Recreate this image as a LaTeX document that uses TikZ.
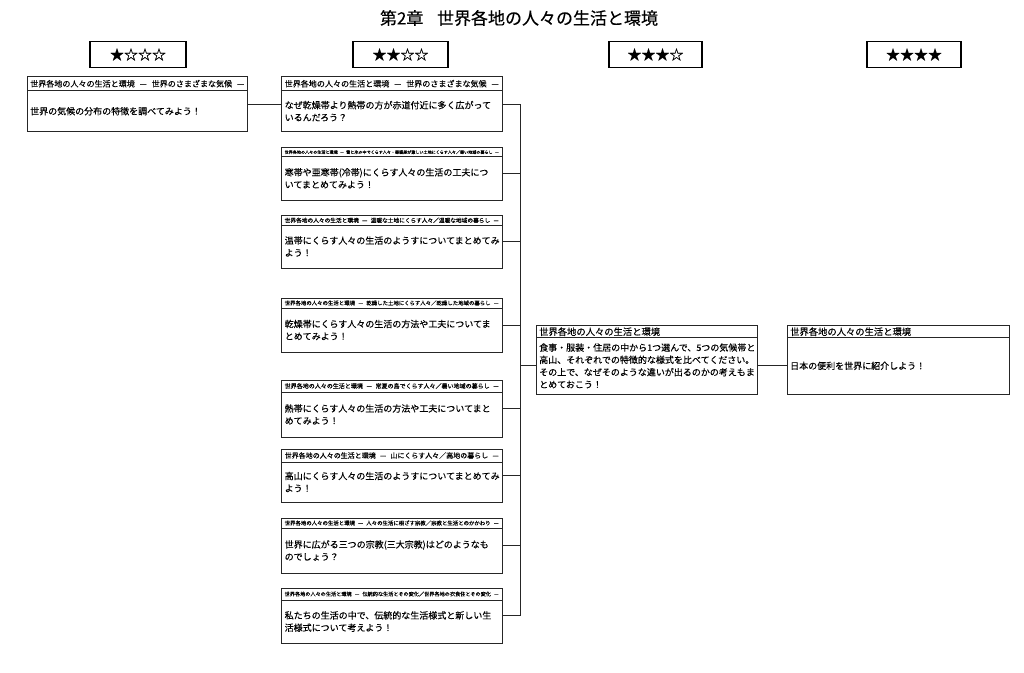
\documentclass[tikz,border=0pt]{standalone}
\usepackage{fontspec}
\setmainfont{Noto Sans CJK JP}[FakeBold=0.22]
\usepackage{graphicx}
\tikzset{
  cardbox/.style={draw=black!85, line width=0.9pt, inner sep=0pt, fill=white},
  divline/.style={draw=black!85, line width=0.9pt},
  hdrtext/.style={anchor=west, inner sep=0pt},
  bodytext/.style={anchor=west, inner sep=0pt, align=left, font=\fontsize{9}{12.3}\selectfont},
  link/.style={draw=black!85, line width=0.8pt},
  starbox/.style={draw=black, line width=1.8pt, inner sep=0pt, font=\fontsize{14}{14}\selectfont},
  titletext/.style={font=\fontsize{17}{17}\selectfont},
}
\newcommand\dsh{\hspace{0.6em}—\hspace{0.6em}}
\newcommand\dshe{\hspace{0.6em}—}
\newcommand\fithdr[1]{\resizebox{214pt}{!}{\fontsize{8}{8}\selectfont #1}}
\newcommand\plainhdr[1]{{\fontsize{9.3}{9.3}\selectfont #1}}
\newcommand\mkcard[8]{%
  \pgfmathsetmacro\mycw{#3-#2}%
  \pgfmathsetmacro\mych{#6-#4}%
  \pgfmathsetmacro\mycx{(#2+#3)/2}%
  \pgfmathsetmacro\mycy{(#4+#6)/2}%
  \pgfmathsetmacro\myhy{(#4+#5)/2}%
  \pgfmathsetmacro\myby{(#5+#6)/2}%
  \pgfmathsetmacro\mytx{#2+3}%
  \node[cardbox, minimum width=\mycw pt, minimum height=\mych pt] (#1) at (\mycx,\mycy) {};
  \draw[divline] (#2,#5) -- (#3,#5);
  \node[hdrtext] (#1h) at (\mytx,\myhy) {#7};
  \node[bodytext] (#1b) at (\mytx,\myby) {#8};
}
\begin{document}
\begin{tikzpicture}[x=1pt,y=-1pt]
\fill[white] (0,0) rectangle (1024,672);
\useasboundingbox (0,0) rectangle (1024,672);

\node[titletext] (title) at (519,18) {第2章\hspace{0.8em}世界各地の人々の生活と環境};

\node[starbox, minimum width=96pt, minimum height=26pt] (s1) at (138,54.5) {★☆☆☆};
\node[starbox, minimum width=95pt, minimum height=26pt] (s2) at (400.5,54.5) {★★☆☆};
\node[starbox, minimum width=93pt, minimum height=26pt] (s3) at (655.5,54.5) {★★★☆};
\node[starbox, minimum width=94pt, minimum height=26pt] (s4) at (914,54.5) {★★★★};

\mkcard{c1}{27}{247.5}{76.7}{90.7}{131.7}
  {\fithdr{世界各地の人々の生活と環境\dsh 世界のさまざまな気候\dshe}}
  {世界の気候の分布の特徴を調べてみよう！}

\mkcard{ca}{281.5}{502}{76.7}{90.7}{131.7}
  {\fithdr{世界各地の人々の生活と環境\dsh 世界のさまざまな気候\dshe}}
  {なぜ乾燥帯より熱帯の方が赤道付近に多く広がって\\いるんだろう？}
\mkcard{cb}{281.5}{502}{147.7}{156.7}{200}
  {\fithdr{世界各地の人々の生活と環境\dsh 雪と氷の中でくらす人々・寒暖差が激しい土地にくらす人々／寒い地域の暮らし\dshe}}
  {寒帯や亜寒帯(冷帯)にくらす人々の生活の工夫につ\\いてまとめてみよう！}
\mkcard{cc}{281.5}{502}{215.7}{225}{268}
  {\fithdr{世界各地の人々の生活と環境\dsh 温暖な土地にくらす人々／温暖な地域の暮らし\dshe}}
  {温帯にくらす人々の生活のようすについてまとめてみ\\よう！}
\mkcard{cd}{281.5}{502}{298}{308}{352}
  {\fithdr{世界各地の人々の生活と環境\dsh 乾燥した土地にくらす人々／乾燥した地域の暮らし\dshe}}
  {乾燥帯にくらす人々の生活の方法や工夫についてま\\とめてみよう！}
\mkcard{ce}{281.5}{502}{380}{392}{437}
  {\fithdr{世界各地の人々の生活と環境\dsh 常夏の島でくらす人々／暑い地域の暮らし\dshe}}
  {熱帯にくらす人々の生活の方法や工夫についてまと\\めてみよう！}
\mkcard{cf}{281.5}{502}{449}{462}{502}
  {\fithdr{世界各地の人々の生活と環境\dsh 山にくらす人々／高地の暮らし\dshe}}
  {高山にくらす人々の生活のようすについてまとめてみ\\よう！}
\mkcard{cg}{281.5}{502}{518}{528}{573}
  {\fithdr{世界各地の人々の生活と環境\dsh 人々の生活に根ざす宗教／宗教と生活とのかかわり\dshe}}
  {世界に広がる三つの宗教(三大宗教)はどのようなも\\のでしょう？}
\mkcard{ch}{281.5}{502}{588}{600}{643}
  {\fithdr{世界各地の人々の生活と環境\dsh 伝統的な生活とその変化／世界各地の衣食住とその変化\dshe}}
  {私たちの生活の中で、伝統的な生活様式と新しい生\\活様式について考えよう！}

\mkcard{c3}{536}{757.5}{325.7}{337.7}{394}
  {\plainhdr{世界各地の人々の生活と環境}}
  {食事・服装・住居の中から1つ選んで、5つの気候帯と\\高山、それぞれでの特徴的な様式を比べてください。\\その上で、なぜそのような違いが出るのかの考えもま\\とめておこう！}
\mkcard{c4}{787}{1009}{325.7}{337.7}{394}
  {\plainhdr{世界各地の人々の生活と環境}}
  {日本の便利を世界に紹介しよう！}

\coordinate (bus) at (520,0);
\draw[link] (c1.east) -- (ca.west);
\foreach \n in {ca,cb,cc,cd,ce,cf,cg,ch} \draw[link] (\n.east) -- (\n.east -| bus);
\draw[link] (ca.east -| bus) -- (ch.east -| bus);
\draw[link] (c3b.west -| bus) -- (c3b.west -| c3.west);
\draw[link] (c3b.west -| c3.east) -- (c3b.west -| c4.west);
\end{tikzpicture}
\end{document}
